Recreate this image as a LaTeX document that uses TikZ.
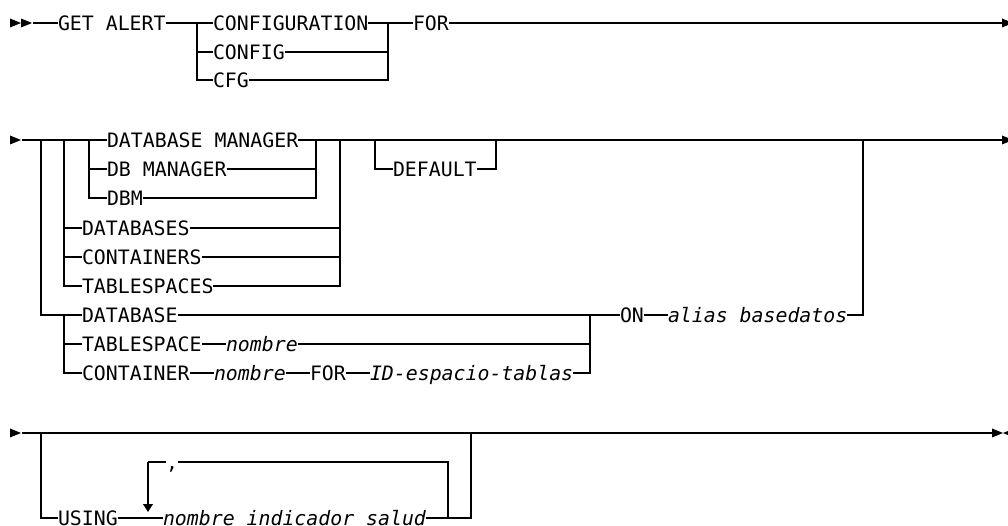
\documentclass[tikz,border=0pt]{standalone}
\usepackage{fontspec}
\setmonofont{DejaVu Sans Mono}
\usetikzlibrary{arrows.meta}

\begin{document}
\begin{tikzpicture}[x=0.02cm,y=-0.02cm,line width=0.8pt,
  kw/.style={anchor=west,inner sep=0pt,outer sep=0pt,text height=8.2pt,text depth=0pt,font=\ttfamily\fontsize{11.3}{13}\selectfont},
  var/.style={kw,font=\ttfamily\itshape\fontsize{11.3}{13}\selectfont}]
\useasboundingbox (0,0) rectangle (1008,526);
% heads at the ends of the rows
\foreach \x/\y in {10/23,21/23,10/140,10/433,1002/23,1002/140,992/433}{\fill (\x,\y-4.5)--(\x+11,\y)--(\x,\y+4.5)--cycle;}
\fill (1014,428.5)--(1003,433)--(1014,437.5)--cycle;
% row 1
\coordinate (s1) at (33,23);\coordinate (e1) at (1002,23);
\coordinate (b1) at (197,23);\coordinate (j1) at (388,23);
\node[kw] (getalert) at (58,23) {GET ALERT};
\node[kw] (configuration) at (213,23) {CONFIGURATION};
\node[kw] (config) at (213,52) {CONFIG};
\node[kw] (cfg) at (213,80) {CFG};
\node[kw] (for) at (413,23) {FOR};
\draw (s1)--(getalert.west) (getalert.east)--(configuration.west) (configuration.east)--(for.west) (for.east)--(e1);
\foreach \n in {config,cfg}{\draw (b1)|-(\n.west) (\n.east)-|(j1);}
% row 2
\coordinate (s2) at (22,140);\coordinate (e2) at (1002,140);
\coordinate (b2a) at (41,140);\coordinate (b2b) at (64,140);\coordinate (b2c) at (89,140);
\coordinate (j2c) at (316,140);\coordinate (j2b) at (340,140);\coordinate (j2a) at (863,140);
\coordinate (b2d) at (375,140);\coordinate (j2d) at (496,140);
\coordinate (b2e) at (64,315);\coordinate (j2e) at (590,315);
\node[kw] (dbmanager) at (107,140) {DATABASE MANAGER};
\node[kw] (dbmgr) at (107,169) {DB MANAGER};
\node[kw] (dbm) at (107,198) {DBM};
\node[kw] (databases) at (82,228) {DATABASES};
\node[kw] (containers) at (82,257) {CONTAINERS};
\node[kw] (tablespaces) at (82,286) {TABLESPACES};
\node[kw] (default) at (393,169) {DEFAULT};
\node[kw] (database) at (82,315) {DATABASE};
\node[kw] (tablespace) at (82,344) {TABLESPACE};
\node[var] (tsname) at (226,344) {nombre};
\node[kw] (container) at (82,373) {CONTAINER};
\node[var] (ctname) at (214,373) {nombre};
\node[kw] (ctfor) at (310,373) {FOR};
\node[var] (tsid) at (370,373) {ID-espacio-tablas};
\node[kw] (on) at (620,315) {ON};
\node[var] (alias) at (668,315) {alias basedatos};
\draw (s2)--(dbmanager.west) (dbmanager.east)--(e2);
\foreach \n in {dbmgr,dbm}{\draw (b2c)|-(\n.west) (\n.east)-|(j2c);}
\foreach \n in {databases,containers,tablespaces}{\draw (b2b)|-(\n.west) (\n.east)-|(j2b);}
\draw (b2d)|-(default.west) (default.east)-|(j2d);
\draw (b2a)|-(database.west) (database.east)--(on.west) (on.east)--(alias.west) (alias.east)-|(j2a);
\draw (b2e)|-(tablespace.west) (tablespace.east)--(tsname.west) (tsname.east)-|(j2e);
\draw (b2e)|-(container.west) (container.east)--(ctname.west) (ctname.east)--(ctfor.west)
  (ctfor.east)--(tsid.west) (tsid.east)-|(j2e);
% row 3
\coordinate (s3) at (22,433);\coordinate (e3) at (992,433);
\coordinate (b3) at (41,433);\coordinate (j3) at (471,433);
\coordinate (lp1) at (148,462);\coordinate (lp2) at (448,462);\coordinate (lpend) at (148,512);
\node[kw] (using) at (58,518) {USING};
\node[var] (hiname) at (163,518) {nombre indicador salud};
\node[kw] (comma) at (166,462) {,};
\draw (s3)--(e3);
\draw[line width=1.6pt] (477,433)--(500,433);
\draw (b3)|-(using.west) (using.east)--(hiname.west) (hiname.east)-|(j3);
\draw (hiname.east-|lp2)--(lp2)--(comma.east) (comma.west)--(lp1);
\draw[-{Triangle[length=4.5pt,width=5.5pt]}] (lp1)--(lpend);
\end{tikzpicture}
\end{document}
